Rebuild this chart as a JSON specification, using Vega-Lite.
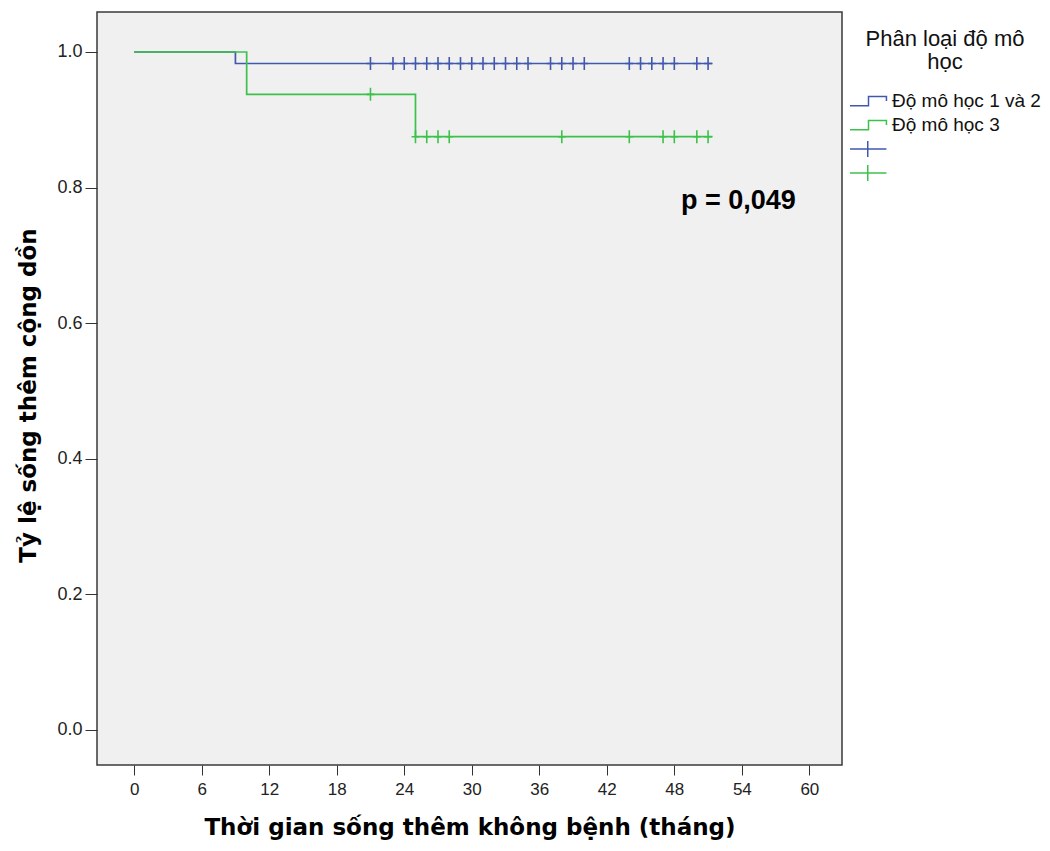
{
  "$schema": "https://vega.github.io/schema/vega-lite/v6.json",
  "width": 745,
  "height": 753,
  "autosize": {"type": "none"},
  "padding": {"left": 97, "top": 12, "right": 208, "bottom": 86},
  "background": "white",
  "config": {
    "view": {"fill": "#f0f0f0", "stroke": "#3a3a3a", "strokeWidth": 1.5},
    "font": "Liberation Sans"
  },
  "datasets": {
    "curves": [
      {"t": 0, "s": 1.0, "group": "Độ mô học 1 và 2"},
      {"t": 9, "s": 0.983, "group": "Độ mô học 1 và 2"},
      {"t": 51.4, "s": 0.983, "group": "Độ mô học 1 và 2"},
      {"t": 0, "s": 1.0, "group": "Độ mô học 3"},
      {"t": 10, "s": 0.9375, "group": "Độ mô học 3"},
      {"t": 25, "s": 0.875, "group": "Độ mô học 3"},
      {"t": 51.4, "s": 0.875, "group": "Độ mô học 3"}
    ],
    "censors": [
      {"t": 21, "s": 0.983, "group": "c1"},
      {"t": 23, "s": 0.983, "group": "c1"},
      {"t": 24, "s": 0.983, "group": "c1"},
      {"t": 25, "s": 0.983, "group": "c1"},
      {"t": 26, "s": 0.983, "group": "c1"},
      {"t": 27, "s": 0.983, "group": "c1"},
      {"t": 28, "s": 0.983, "group": "c1"},
      {"t": 29, "s": 0.983, "group": "c1"},
      {"t": 30, "s": 0.983, "group": "c1"},
      {"t": 31, "s": 0.983, "group": "c1"},
      {"t": 32, "s": 0.983, "group": "c1"},
      {"t": 33, "s": 0.983, "group": "c1"},
      {"t": 34, "s": 0.983, "group": "c1"},
      {"t": 35, "s": 0.983, "group": "c1"},
      {"t": 37, "s": 0.983, "group": "c1"},
      {"t": 38, "s": 0.983, "group": "c1"},
      {"t": 39, "s": 0.983, "group": "c1"},
      {"t": 40, "s": 0.983, "group": "c1"},
      {"t": 44, "s": 0.983, "group": "c1"},
      {"t": 45, "s": 0.983, "group": "c1"},
      {"t": 46, "s": 0.983, "group": "c1"},
      {"t": 47, "s": 0.983, "group": "c1"},
      {"t": 48, "s": 0.983, "group": "c1"},
      {"t": 50, "s": 0.983, "group": "c1"},
      {"t": 51, "s": 0.983, "group": "c1"},
      {"t": 21, "s": 0.9375, "group": "c2"},
      {"t": 25, "s": 0.875, "group": "c2"},
      {"t": 26, "s": 0.875, "group": "c2"},
      {"t": 27, "s": 0.875, "group": "c2"},
      {"t": 28, "s": 0.875, "group": "c2"},
      {"t": 38, "s": 0.875, "group": "c2"},
      {"t": 44, "s": 0.875, "group": "c2"},
      {"t": 47, "s": 0.875, "group": "c2"},
      {"t": 48, "s": 0.875, "group": "c2"},
      {"t": 50, "s": 0.875, "group": "c2"},
      {"t": 51, "s": 0.875, "group": "c2"}
    ],
    "note": [
      {"t": 53.7, "s": 0.78, "label": "p = 0,049"}
    ]
  },
  "layer": [
    {
      "data": {"name": "curves"},
      "mark": {"type": "line", "interpolate": "step-after", "strokeWidth": 1.7},
      "encoding": {
        "x": {
          "field": "t", "type": "quantitative",
          "scale": {"domain": [-3.3, 62.9], "nice": false, "zero": false},
          "axis": {
            "values": [0, 6, 12, 18, 24, 30, 36, 42, 48, 54, 60],
            "title": "Thời gian sống thêm không bệnh (tháng)",
            "titleFont": "DejaVu Sans", "titleFontWeight": "bold", "titleFontSize": 23,
            "titleColor": "#000000", "titlePadding": 19,
            "labelFontSize": 17, "labelColor": "#222222", "labelPadding": 6,
            "tickSize": 10, "tickColor": "#333333", "domain": false, "grid": false
          }
        },
        "y": {
          "field": "s", "type": "quantitative",
          "scale": {"domain": [-0.052, 1.059], "nice": false, "zero": false},
          "axis": {
            "values": [0, 0.2, 0.4, 0.6, 0.8, 1.0],
            "format": ".1f",
            "title": "Tỷ lệ sống thêm cộng dồn",
            "titleFont": "DejaVu Sans", "titleFontWeight": "bold", "titleFontSize": 23,
            "titleColor": "#000000", "titlePadding": 16, "titleY": 383,
            "labelFontSize": 18, "labelColor": "#222222", "labelPadding": 3,
            "tickSize": 12, "tickColor": "#333333", "domain": false, "grid": false
          }
        },
        "color": {
          "field": "group", "type": "nominal",
          "scale": {
            "domain": ["Độ mô học 1 và 2", "Độ mô học 3", "c1", "c2"],
            "range": ["#4158ad", "#3cc24b", "#4158ad", "#3cc24b"]
          },
          "legend": {
            "orient": "none", "legendX": 752, "legendY": 17,
            "title": ["Phân loại độ mô", "học"],
            "titleFontSize": 22, "titleFontWeight": "normal", "titleColor": "#111111",
            "titleAnchor": "middle", "titleAlign": "center", "titleLineHeight": 23, "titlePadding": 16,
            "labelFontSize": 19, "labelColor": "#111111", "labelOffset": 4,
            "labelExpr": "datum.value == 'c1' || datum.value == 'c2' ? '' : datum.label",
            "symbolSize": 1369, "clipHeight": 22, "rowPadding": 2,
            "encode": {
              "symbols": {
                "update": {
                  "shape": {"signal": "datum.value == 'c1' || datum.value == 'c2' ? 'M-1,0H0.97M-0.04,-0.43V0.43' : 'M-1,0.25H0V-0.25H0.97V0'"},
                  "fill": {"value": "transparent"},
                  "stroke": {"scale": "color", "field": "value"},
                  "strokeWidth": {"value": 1.5}
                }
              }
            }
          }
        }
      }
    },
    {
      "data": {"name": "censors"},
      "mark": {"type": "point", "shape": "M-0.6,0H0.6M0,-1V1", "size": 169, "filled": false, "strokeWidth": 1.6, "opacity": 1},
      "encoding": {
        "x": {"field": "t", "type": "quantitative"},
        "y": {"field": "s", "type": "quantitative"},
        "color": {"field": "group", "type": "nominal"}
      }
    },
    {
      "data": {"name": "note"},
      "mark": {"type": "text", "font": "Liberation Sans", "fontWeight": "bold", "fontSize": 27, "color": "#000000", "align": "center", "baseline": "middle"},
      "encoding": {
        "x": {"field": "t", "type": "quantitative"},
        "y": {"field": "s", "type": "quantitative"},
        "text": {"field": "label"}
      }
    }
  ]
}
